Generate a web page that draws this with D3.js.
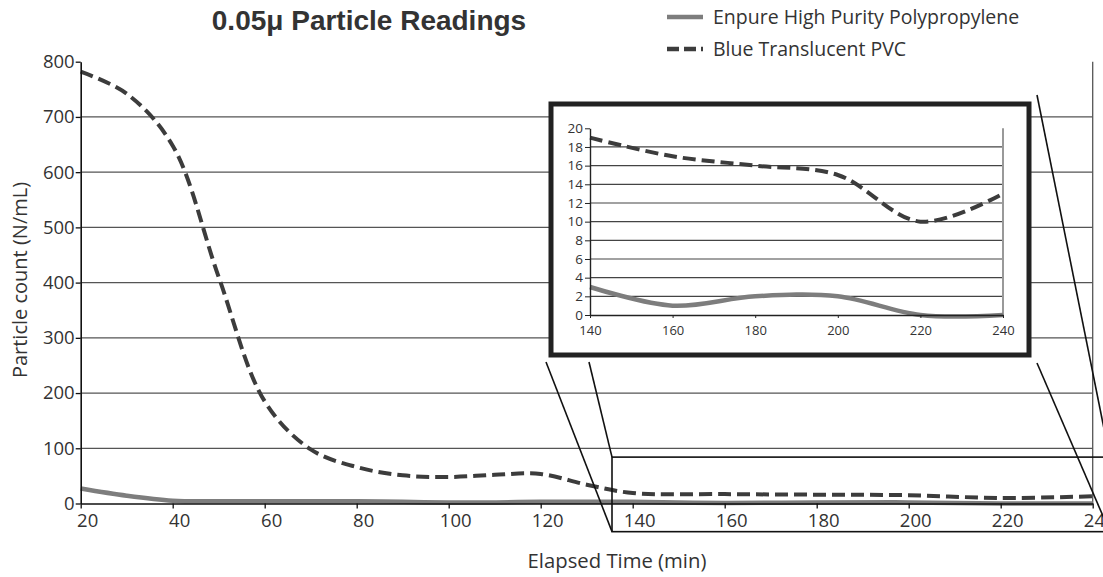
<!DOCTYPE html>
<html>
<head>
<meta charset="utf-8">
<script src="https://cdn.jsdelivr.net/npm/d3@7"></script>
<style>
  body { margin: 0; background: #fff; }
  svg text { font-family: "Open Sans", sans-serif; fill: #333; }
</style>
</head>
<body>
<svg id="chart"></svg>
<script>
// Data
let minutes = [20, 30, 40, 50, 60, 70, 80, 90, 100, 110, 120, 130, 140, 160, 180, 200, 220, 240];
let enpure = [27, 14, 5, 4, 4, 4, 4, 3, 2, 2, 3, 3, 3, 1, 2, 2, 0, 0];
let pvc = [782, 742, 648, 410, 185, 98, 66, 51, 48, 52, 53.5, 34, 19, 17, 16, 15, 10, 13];

let seriesNames = ["Enpure High Purity Polypropylene", "Blue Translucent PVC"];

let xTicks = [20, 40, 60, 80, 100, 120, 140, 160, 180, 200, 220, 240];
let yTicks = [0, 100, 200, 300, 400, 500, 600, 700, 800];
let insetXTicks = [140, 160, 180, 200, 220, 240];
let insetYTicks = [0, 2, 4, 6, 8, 10, 12, 14, 16, 18, 20];

// Layout
let width = 1103;
let height = 577;

let svg = d3.select("#chart").attr("width", width).attr("height", height);

let xScale = d3.scaleLinear().domain([20, 240]).range([80.7, 1092.7]);
let yScale = d3.scaleLinear().domain([0, 800]).range([503.5, 61.7]);

let insetX = d3.scaleLinear().domain([140, 240]).range([590, 1003]);
let insetY = d3.scaleLinear().domain([0, 20]).range([315, 128.3]);

let enpureColor = "#7d7d7d";
let pvcColor = "#3c3c3c";
let pvcDash = "13,6";

let rows = minutes.map((m, i) => ({ m: m, enpure: enpure[i], pvc: pvc[i] }));
let insetRows = rows.filter((d) => d.m >= 140);

// Main gridlines
svg.append("g")
  .selectAll("line")
  .data(yTicks.filter((v) => v > 0 && v < 800))
  .enter()
  .append("line")
  .attr("x1", xScale(20))
  .attr("x2", xScale(240))
  .attr("y1", (v) => yScale(v))
  .attr("y2", (v) => yScale(v))
  .attr("stroke", "#555")
  .attr("stroke-width", 1.3);

// right border of plot
svg.append("line")
  .attr("x1", xScale(240)).attr("x2", xScale(240))
  .attr("y1", yScale(800)).attr("y2", yScale(0))
  .attr("stroke", "#555")
  .attr("stroke-width", 1.3);

// Main lines
let mainLine = (key) => d3.line()
  .x((d) => xScale(d.m))
  .y((d) => yScale(d[key]))
  .curve(d3.curveCatmullRom);

svg.append("path")
  .datum(rows)
  .attr("d", mainLine("pvc"))
  .attr("fill", "none")
  .attr("stroke", pvcColor)
  .attr("stroke-width", 4)
  .attr("stroke-dasharray", pvcDash);

svg.append("path")
  .datum(rows)
  .attr("d", mainLine("enpure"))
  .attr("fill", "none")
  .attr("stroke", enpureColor)
  .attr("stroke-width", 4.5);

// Main axes
let xAxis = d3.axisBottom(xScale).tickValues(xTicks).tickSize(5).tickSizeOuter(0).tickPadding(5);
let yAxis = d3.axisLeft(yScale).tickValues(yTicks).tickSize(5).tickSizeOuter(0).tickPadding(1);

let gx = svg.append("g")
  .attr("transform", "translate(0," + yScale(0) + ")")
  .call(xAxis);
gx.selectAll("text").attr("dx", 6.5).style("font-size", "18.5px");

let gy = svg.append("g")
  .attr("transform", "translate(" + xScale(20) + ",0)")
  .call(yAxis);
gy.selectAll("text").style("font-size", "18.5px");

[gx, gy].forEach((g) => {
  g.select(".domain").attr("stroke", "#111").attr("stroke-width", 1.6);
  g.selectAll(".tick line").attr("stroke", "#111").attr("stroke-width", 1.3);
  g.selectAll("text").attr("fill", "#333");
});

// Zoom box on the main chart
let box = { x0: 135.5, x1: 243.7, y0: -51, y1: 84 };
svg.append("rect")
  .attr("x", xScale(box.x0))
  .attr("y", yScale(box.y1))
  .attr("width", xScale(box.x1) - xScale(box.x0))
  .attr("height", yScale(box.y0) - yScale(box.y1))
  .attr("fill", "none")
  .attr("stroke", "#111")
  .attr("stroke-width", 1.6);

// connector lines from inset to zoom box
let connectors = [
  [546, 362, xScale(box.x0), yScale(box.y0)],
  [589, 362, xScale(box.x0), yScale(box.y1)],
  [1037, 95, xScale(box.x1), yScale(box.y1)],
  [1037, 363, xScale(box.x1), yScale(box.y0)]
];
svg.append("g")
  .selectAll("line")
  .data(connectors)
  .enter()
  .append("line")
  .attr("x1", (c) => c[0]).attr("y1", (c) => c[1])
  .attr("x2", (c) => c[2]).attr("y2", (c) => c[3])
  .attr("stroke", "#111")
  .attr("stroke-width", 1.6);

// Inset
let inset = svg.append("g");
inset.append("rect")
  .attr("x", 551).attr("y", 104)
  .attr("width", 478).attr("height", 251)
  .attr("fill", "#fff")
  .attr("stroke", "#222")
  .attr("stroke-width", 5);

inset.append("g")
  .selectAll("line")
  .data(insetYTicks.filter((v) => v > 0 && v < 20))
  .enter()
  .append("line")
  .attr("x1", insetX(140)).attr("x2", insetX(240))
  .attr("y1", (v) => insetY(v)).attr("y2", (v) => insetY(v))
  .attr("stroke", "#444")
  .attr("stroke-width", 1.2);

inset.append("line")
  .attr("x1", insetX(240)).attr("x2", insetX(240))
  .attr("y1", insetY(20)).attr("y2", insetY(0))
  .attr("stroke", "#999")
  .attr("stroke-width", 2);

let insetLine = (key) => d3.line()
  .x((d) => insetX(d.m))
  .y((d) => insetY(d[key]))
  .curve(d3.curveCatmullRom);

inset.append("path")
  .datum(insetRows)
  .attr("d", insetLine("pvc"))
  .attr("fill", "none")
  .attr("stroke", pvcColor)
  .attr("stroke-width", 4)
  .attr("stroke-dasharray", pvcDash);

inset.append("path")
  .datum(insetRows)
  .attr("d", insetLine("enpure"))
  .attr("fill", "none")
  .attr("stroke", enpureColor)
  .attr("stroke-width", 4.5);

let ix = inset.append("g")
  .attr("transform", "translate(0," + insetY(0) + ")")
  .call(d3.axisBottom(insetX).tickValues(insetXTicks).tickSize(3).tickSizeOuter(0).tickPadding(8));
ix.selectAll("text").style("font-size", "13px");

let iy = inset.append("g")
  .attr("transform", "translate(" + insetX(140) + ",0)")
  .call(d3.axisLeft(insetY).tickValues(insetYTicks).tickSize(5).tickSizeOuter(0).tickPadding(2));
iy.selectAll("text").style("font-size", "13.5px");

[ix, iy].forEach((g) => {
  g.select(".domain").attr("stroke", "#222").attr("stroke-width", 1.4);
  g.selectAll(".tick line").attr("stroke", "#222");
  g.selectAll("text").attr("fill", "#333");
});

// Title and axis titles
svg.append("text")
  .attr("x", 369).attr("y", 30)
  .attr("text-anchor", "middle")
  .style("font-family", "'Liberation Sans Narrow', 'Liberation Sans', sans-serif")
  .style("font-weight", "bold")
  .style("font-size", "28px")
  .attr("fill", "#222")
  .text("0.05μ Particle Readings");

svg.append("text")
  .attr("transform", "translate(27,280) rotate(-90)")
  .attr("text-anchor", "middle")
  .style("font-size", "20px")
  .text("Particle count (N/mL)");

svg.append("text")
  .attr("x", 617).attr("y", 568)
  .attr("text-anchor", "middle")
  .style("font-size", "20.3px")
  .text("Elapsed Time (min)");

// Legend
let legend = svg.append("g");
let legendRows = seriesNames.map((name, i) => ({
  name: name,
  color: i === 0 ? enpureColor : pvcColor,
  dash: i === 0 ? null : "12,5",
  y: 17 + i * 32
}));

legend.selectAll("line")
  .data(legendRows)
  .enter()
  .append("line")
  .attr("x1", 667).attr("x2", 703)
  .attr("y1", (d) => d.y).attr("y2", (d) => d.y)
  .attr("stroke", (d) => d.color)
  .attr("stroke-width", 4.5)
  .attr("stroke-dasharray", (d) => d.dash);

legend.selectAll("text")
  .data(legendRows)
  .enter()
  .append("text")
  .attr("x", 713)
  .attr("y", (d) => d.y + 6.5)
  .style("font-size", "19.5px")
  .text((d) => d.name);
</script>
</body>
</html>
